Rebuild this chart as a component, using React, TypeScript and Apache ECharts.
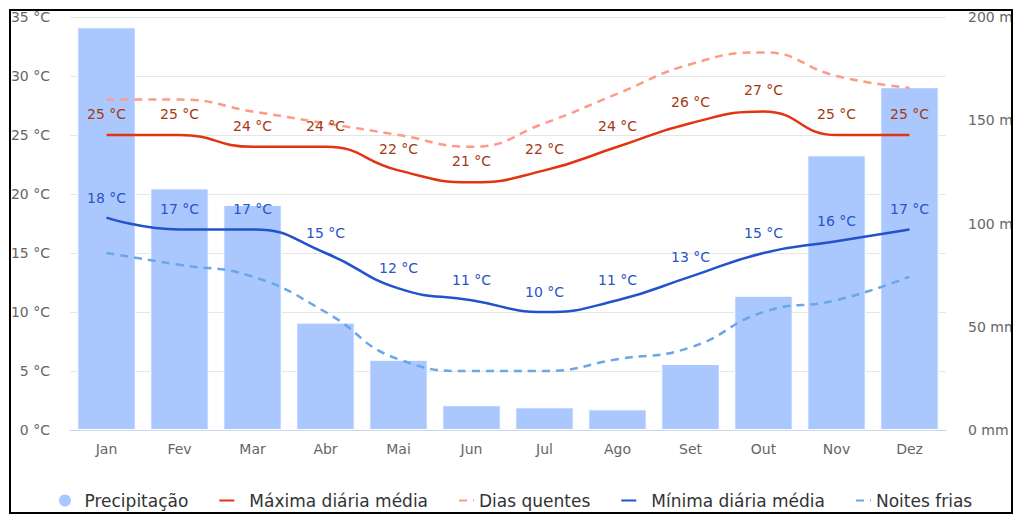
import React, { useEffect, useRef } from "react";
import * as echarts from "echarts";

const months = ["Jan", "Fev", "Mar", "Abr", "Mai", "Jun", "Jul", "Ago", "Set", "Out", "Nov", "Dez"];
const precipitation = [195, 117, 109, 52, 34, 12, 11, 10, 32, 65, 133, 166];
const maxDaily = [25, 25, 24, 24, 22, 21, 22, 24, 26, 27, 25, 25];
const hotDays = [28, 28, 27, 26, 25, 24, 26, 28.5, 31, 32, 30, 29];
const minDaily = [18, 17, 17, 15, 12, 11, 10, 11, 13, 15, 16, 17];
const coldNights = [15, 14, 13, 10, 6, 5, 5, 6, 7, 10, 11, 13];

const FONT = "DejaVu Sans";

export default function App() {
  const ref = useRef<HTMLDivElement>(null);
  useEffect(() => {
    if (!ref.current) return;
    const chart = echarts.init(ref.current, undefined, { renderer: "svg" });
    chart.setOption({
      animation: false,
      textStyle: { fontFamily: FONT },
      grid: { left: 70, right: 114, top: 17, bottom: 95, containLabel: false },
      legend: {
        left: 52,
        top: 487,
        itemGap: 30,
        itemWidth: 15,
        itemHeight: 14,
        textStyle: { fontSize: 17, color: "#333", fontFamily: FONT },
        data: [
          { name: "Precipitação", icon: "circle", textStyle: { padding: [0, 0, 0, 7] } },
          { name: "Máxima diária média", itemStyle: { opacity: 0 }, textStyle: { padding: [0, 6, 0, 10] } },
          { name: "Dias quentes", itemStyle: { opacity: 0 }, textStyle: { padding: [0, 3, 0, 0] } },
          { name: "Mínima diária média", itemStyle: { opacity: 0 }, textStyle: { padding: [0, 3, 0, 10] } },
          { name: "Noites frias", itemStyle: { opacity: 0 } },
        ],
      },
      xAxis: {
        type: "category",
        data: months,
        boundaryGap: true,
        axisLine: { lineStyle: { color: "#ccd6eb" } },
        axisTick: { alignWithLabel: true, length: 8, lineStyle: { color: "#ccd6eb" } },
        axisLabel: { color: "#666", fontSize: 14, margin: 12, fontFamily: FONT },
      },
      yAxis: [
        {
          type: "value",
          min: 0,
          max: 35,
          interval: 5,
          axisLine: { show: false },
          axisTick: { show: false },
          axisLabel: { formatter: "{value} °C", color: "#666", fontSize: 14, margin: 20, fontFamily: FONT },
          splitLine: { lineStyle: { color: "#e6e6e6" } },
        },
        {
          type: "value",
          min: 0,
          max: 200,
          interval: 50,
          axisLine: { show: false },
          axisTick: { show: false },
          axisLabel: { formatter: "{value} mm", color: "#666", fontSize: 14, margin: 22, fontFamily: FONT },
          splitLine: { show: false },
        },
      ],
      series: [
        {
          name: "Precipitação",
          type: "bar",
          yAxisIndex: 1,
          data: precipitation,
          barCategoryGap: "20%",
          itemStyle: { color: "#aac8fe", borderColor: "#ffffff", borderWidth: 1 },
          z: 1,
        },
        {
          name: "Máxima diária média",
          type: "line",
          data: maxDaily,
          smooth: 0.5,
          symbol: "circle",
          symbolSize: 0,
          showSymbol: true,
          itemStyle: { color: "#e2340f" },
          lineStyle: { color: "#e2340f", width: 2.5 },
          label: {
            show: true,
            position: "top",
            distance: 14,
            formatter: "{c} °C",
            color: "#a33a14",
            fontSize: 14,
            fontFamily: FONT,
          },
          z: 4,
        },
        {
          name: "Dias quentes",
          type: "line",
          data: hotDays,
          smooth: 0.5,
          symbol: "none",
          showSymbol: false,
          itemStyle: { color: "#ff9a85" },
          lineStyle: { color: "#ff9a85", width: 2.5, type: [8, 6] },
          z: 3,
        },
        {
          name: "Mínima diária média",
          type: "line",
          data: minDaily,
          smooth: 0.5,
          symbol: "circle",
          symbolSize: 0,
          showSymbol: true,
          itemStyle: { color: "#2253cc" },
          lineStyle: { color: "#2253cc", width: 2.5 },
          label: {
            show: true,
            position: "top",
            distance: 13,
            formatter: "{c} °C",
            color: "#2a55c8",
            fontSize: 14,
            fontFamily: FONT,
          },
          z: 4,
        },
        {
          name: "Noites frias",
          type: "line",
          data: coldNights,
          smooth: 0.5,
          symbol: "none",
          showSymbol: false,
          itemStyle: { color: "#6aa6e8" },
          lineStyle: { color: "#6aa6e8", width: 2.5, type: [8, 6] },
          z: 3,
        },
      ],
    });
    return () => chart.dispose();
  }, []);

  return (
    <div style={{ position: "fixed", left: 0, top: 0, width: 1017, height: 514, background: "#fff" }}>
      <div
        style={{
          position: "absolute",
          left: 9,
          top: 9,
          width: 1000,
          height: 501,
          border: "2px solid #000",
          overflow: "hidden",
          background: "#fff",
        }}
      >
        <div ref={ref} style={{ position: "absolute", left: -11, top: -11, width: 1060, height: 525 }} />
      </div>
    </div>
  );
}
